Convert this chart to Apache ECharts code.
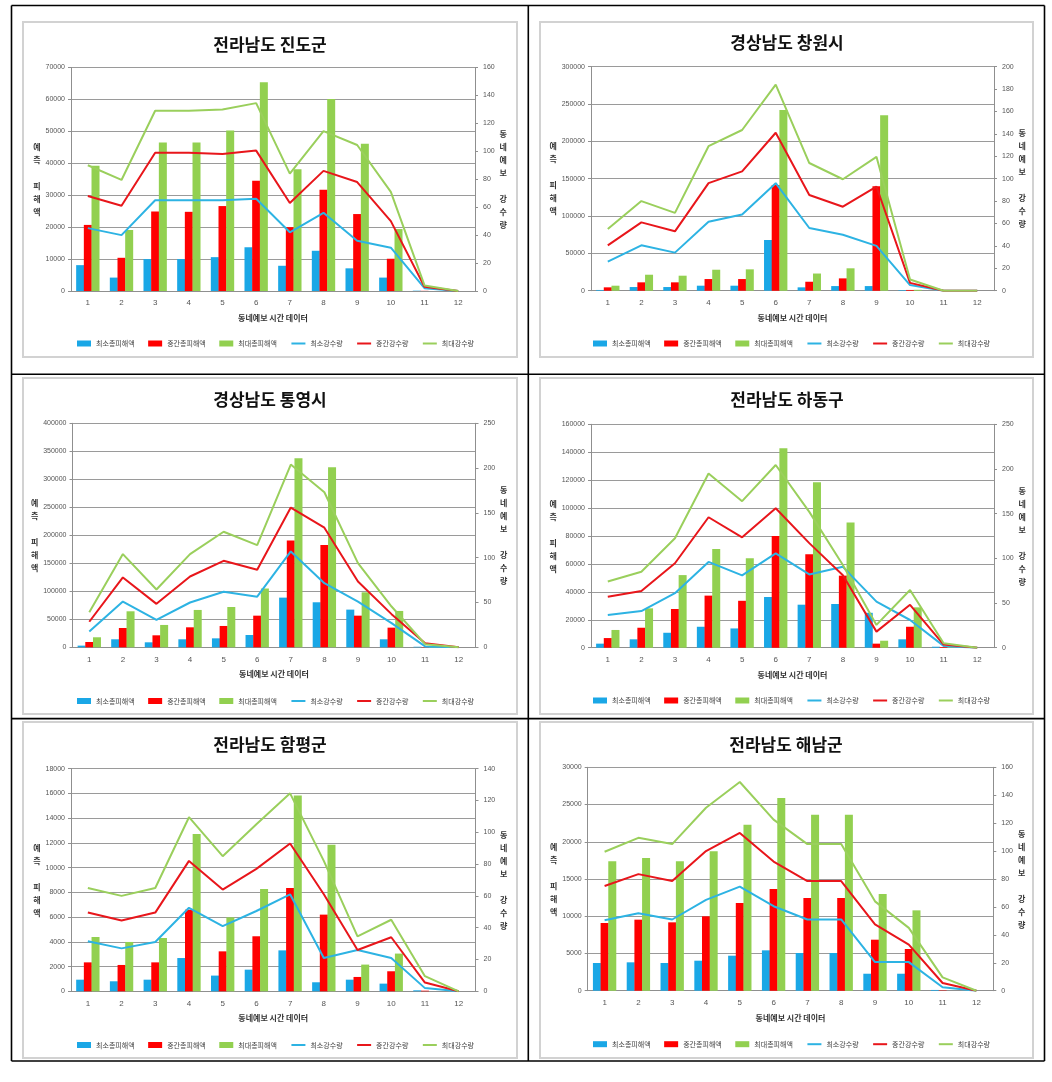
<!DOCTYPE html>
<html><head><meta charset="utf-8">
<script src="https://cdn.jsdelivr.net/npm/echarts/dist/echarts.min.js"></script>
<style>html,body{margin:0;padding:0;background:#fff}#c{width:1052px;height:1082px}</style>
</head><body><div id="c"></div><script>
// ---------- data ----------
const categories = ['1','2','3','4','5','6','7','8','9','10','11','12'];
const seriesNames = ['최소총피해액','중간총피해액','최대총피해액','최소강수량','중간강수량','최대강수량'];
const panelTitles = ['전라남도 진도군','경상남도 창원시','경상남도 통영시','전라남도 하동구','전라남도 함평군','전라남도 해남군'];
const xAxisName = '동네예보 시간 데이터';
const leftAxisName = '예\n측\n\n피\n해\n액';
const rightAxisName = '동\n네\n예\n보\n\n강\n수\n량';

// 진도군
const jindoMinDamage = [8100, 4200, 10000, 10000, 10600, 13700, 7900, 12600, 7100, 4200, 100, 0];
const jindoMidDamage = [20700, 10400, 24900, 24800, 26600, 34500, 20000, 31700, 24100, 10100, 50, 0];
const jindoMaxDamage = [39200, 19100, 46500, 46500, 50300, 65400, 38100, 60100, 46100, 19400, 0, 0];
const jindoMinRain = [45, 40, 65, 65, 65, 66, 42, 56, 36, 31, 2, 0];
const jindoMidRain = [68, 61, 99, 99, 98, 100.5, 63, 86, 78, 50, 3, 0];
const jindoMaxRain = [90, 79.5, 129, 129, 130, 134.5, 84, 114.5, 104.5, 71, 4, 0];
// 창원시
const changwonMinDamage = [1000, 4900, 4900, 6700, 6700, 67900, 4500, 6200, 6200, 800, 0, 0];
const changwonMidDamage = [4500, 11200, 11200, 15600, 15600, 141500, 12000, 16500, 140000, 1000, 0, 0];
const changwonMaxDamage = [6700, 21400, 20100, 28100, 28600, 242000, 23000, 30000, 235000, 1200, 0, 0];
const changwonMinRain = [26, 40.5, 34, 61.5, 68, 96, 56, 50, 40, 5, 0, 0];
const changwonMidRain = [40.5, 61, 53, 96, 106.5, 141, 85.5, 75, 93, 7, 0, 0];
const changwonMaxRain = [55, 80, 69.5, 129, 143.5, 184, 114, 99.5, 119.5, 10, 0, 0];
// 통영시
const tongyeongMinDamage = [3000, 14300, 8900, 14300, 16000, 22000, 88700, 80400, 67300, 14300, 1000, 0];
const tongyeongMidDamage = [9500, 34500, 21400, 35700, 38100, 56500, 190500, 182700, 56500, 35100, 500, 0];
const tongyeongMaxDamage = [17900, 64300, 39900, 66700, 72000, 105000, 337500, 321400, 98200, 64900, 500, 0];
const tongyeongMinRain = [17.5, 51, 30.5, 50, 62, 56.5, 107, 71.5, 51, 27, 1, 0];
const tongyeongMidRain = [28.5, 78, 48.5, 79, 96.5, 86.5, 156, 133.5, 73.5, 37, 4.5, 0];
const tongyeongMaxRain = [39, 104, 64.5, 104, 129, 114, 204, 173, 94, 45.5, 3.5, 0];
// 하동구
const hadongMinDamage = [2900, 6000, 10700, 15000, 13800, 36300, 30800, 31300, 25000, 6000, 700, 0];
const hadongMidDamage = [6900, 14300, 27700, 37300, 33600, 80000, 66900, 51600, 2900, 15000, 500, 0];
const hadongMaxDamage = [12700, 28200, 52000, 70700, 64000, 142800, 118500, 89600, 5000, 28900, 300, 0];
const hadongMinRain = [36.5, 41, 61, 96, 81, 105.5, 82, 90.5, 51.5, 31, 2, 0];
const hadongMidRain = [57, 63.5, 94.5, 146, 123.5, 156, 117, 81, 18, 48, 3.5, 0];
const hadongMaxRain = [74, 85, 122.5, 195, 164, 204.5, 152, 92.5, 25.5, 64.5, 5, 0];
// 함평군
const hampyeongMinDamage = [940, 810, 940, 2690, 1270, 1750, 3310, 730, 940, 620, 80, 0];
const hampyeongMidDamage = [2340, 2130, 2340, 6600, 3230, 4450, 8350, 6200, 1160, 1620, 50, 0];
const hampyeongMaxDamage = [4390, 3990, 4310, 12720, 5980, 8270, 15840, 11860, 2160, 3050, 0, 0];
const hampyeongMinRain = [31.5, 27, 31, 52.5, 41, 50.5, 61, 21, 26, 21, 2, 0];
const hampyeongMidRain = [49.5, 44.5, 49.5, 82, 64, 77, 93, 61, 26, 34, 5.5, 0];
const hampyeongMaxRain = [65, 60, 65, 109.5, 85, 105, 124.5, 82, 34.5, 45, 9.5, 0];
// 해남군
const haenamMinDamage = [3720, 3810, 3720, 4030, 4700, 5420, 5060, 5060, 2280, 2280, 100, 0];
const haenamMidDamage = [9090, 9540, 9180, 9990, 11780, 13660, 12450, 12450, 6850, 5600, 50, 0];
const haenamMaxDamage = [17370, 17820, 17370, 18720, 22300, 25880, 23640, 23640, 12990, 10790, 0, 0];
const haenamMinRain = [50.5, 55.5, 51, 65, 74.5, 60.5, 51, 51, 20.5, 20.5, 2.5, 0];
const haenamMidRain = [75, 83.5, 78.5, 100, 113, 92.5, 78.5, 78.5, 47.5, 33, 5.5, 0];
const haenamMaxRain = [99.5, 109.5, 105, 131, 149.5, 122.5, 105, 105, 64, 45, 9.5, 0];

// axis scales per panel
const leftAxisMax = [70000, 300000, 400000, 160000, 18000, 30000];
const leftAxisStep = [10000, 50000, 50000, 20000, 2000, 5000];
const rightAxisMax = [160, 200, 250, 250, 140, 160];
const rightAxisStep = [20, 20, 50, 50, 20, 20];

const panelData = [
  [jindoMinDamage, jindoMidDamage, jindoMaxDamage, jindoMinRain, jindoMidRain, jindoMaxRain],
  [changwonMinDamage, changwonMidDamage, changwonMaxDamage, changwonMinRain, changwonMidRain, changwonMaxRain],
  [tongyeongMinDamage, tongyeongMidDamage, tongyeongMaxDamage, tongyeongMinRain, tongyeongMidRain, tongyeongMaxRain],
  [hadongMinDamage, hadongMidDamage, hadongMaxDamage, hadongMinRain, hadongMidRain, hadongMaxRain],
  [hampyeongMinDamage, hampyeongMidDamage, hampyeongMaxDamage, hampyeongMinRain, hampyeongMidRain, hampyeongMaxRain],
  [haenamMinDamage, haenamMidDamage, haenamMaxDamage, haenamMinRain, haenamMidRain, haenamMaxRain]
];

// ---------- layout / style ----------
const layout = [
  {gl:71,    gt:67.5,  gw:404,   gh:223.5, tx:270, ty:46,    lx:77,  ly:344,    lg:29,   rg:23, frame:[23,22,494,335]},
  {gl:591,   gt:66.7,  gw:403,   gh:224,   tx:787, ty:44.5,  lx:593, ly:344,    lg:32,   rg:21, frame:[540,22,493,335]},
  {gl:72.5,  gt:423.3, gw:403,   gh:224,   tx:270, ty:401,   lx:77,  ly:701.5,  lg:29.5, rg:23, frame:[23,378,494,336]},
  {gl:591,   gt:424.3, gw:403,   gh:223.4, tx:787, ty:401,   lx:593, ly:701,    lg:32,   rg:20, frame:[540,378,493,336]},
  {gl:71,    gt:768.7, gw:404.5, gh:222.6, tx:270, ty:746.5, lx:77,  ly:1045.5, lg:28,   rg:23, frame:[23,722,494,336]},
  {gl:587.7, gt:767.3, gw:405.6, gh:223.4, tx:786, ty:745.7, lx:593, ly:1044.7, lg:28,   rg:20, frame:[540,722,493,336]}
];
const barColors = ['#1AA7E6', '#FF0000', '#92D050'];
const lineColors = ['#2DB3E3', '#E8161B', '#9ACF5C'];
const KR = '"Noto Sans CJK KR", "Noto Sans", sans-serif';
const NUM = '"Liberation Sans", Arial, sans-serif';
const axisGray = '#8f8f8f';
const plain = v => String(v);

const option = {
  animation: false,
  backgroundColor: '#fff',
  title: [], legend: [], grid: [], xAxis: [], yAxis: [], series: [], graphic: []
};

// table lines & frames
const g = option.graphic;
layout.forEach(L => {
  const [fx, fy, fw, fh] = L.frame;
  g.push({type:'rect', z:-10, shape:{x:fx, y:fy, width:fw, height:fh}, style:{fill:'#fff', stroke:'#d2d2d2', lineWidth:2}});
});
const tableStroke = {stroke:'#000', lineWidth:1.6};
[[11.5,5.5,1044.5,5.5],[11.5,374.2,1044.5,374.2],[11.5,718.6,1044.5,718.6],[11.5,1061,1044.5,1061],
 [11.5,5.5,11.5,1061],[528.3,5.5,528.3,1061],[1044.5,5.5,1044.5,1061]].forEach(s => {
  g.push({type:'line', z:10, shape:{x1:s[0], y1:s[1], x2:s[2], y2:s[3]}, style:tableStroke});
});

layout.forEach((L, p) => {
  option.title.push({text: panelTitles[p], left: L.tx, top: L.ty - 10, textAlign: 'center', padding: 0,
    textStyle: {fontFamily: KR, fontSize: 17, fontWeight: 'bold', color: '#111'}});
  option.grid.push({left: L.gl, top: L.gt, width: L.gw, height: L.gh, containLabel: false, outerBoundsMode: 'none'});
  option.xAxis.push({type:'category', gridIndex:p, data: categories,
    axisLine:{lineStyle:{color:axisGray}}, axisTick:{length:4, lineStyle:{color:axisGray}},
    axisLabel:{fontSize:8, color:'#555', margin:8, fontFamily: NUM},
    name: xAxisName, nameLocation:'middle', nameGap:23,
    nameTextStyle:{fontSize:8, color:'#333', fontFamily: KR, fontWeight:'bold'}});
  option.yAxis.push({type:'value', gridIndex:p, position:'left', min:0, max:leftAxisMax[p], interval:leftAxisStep[p],
    axisLine:{show:true, lineStyle:{color:axisGray}}, axisTick:{show:true, length:3, lineStyle:{color:axisGray}},
    splitLine:{show:true, lineStyle:{color:'#9a9a9a', width:1.2}},
    axisLabel:{fontSize:7, color:'#555', margin:6, fontFamily: NUM, formatter: plain},
    name: leftAxisName, nameLocation:'middle', nameRotate:0, nameGap:L.lg,
    nameTextStyle:{fontSize:8, lineHeight:13, color:'#333', fontFamily: KR, fontWeight:'bold'}});
  option.yAxis.push({type:'value', gridIndex:p, position:'right', min:0, max:rightAxisMax[p], interval:rightAxisStep[p],
    axisLine:{show:true, lineStyle:{color:axisGray}}, axisTick:{show:true, length:3, lineStyle:{color:axisGray}},
    splitLine:{show:false},
    axisLabel:{fontSize:7, color:'#555', margin:8, fontFamily: NUM, formatter: plain},
    name: rightAxisName, nameLocation:'middle', nameRotate:0, nameGap:L.rg,
    nameTextStyle:{fontSize:8, lineHeight:13, color:'#333', fontFamily: KR, fontWeight:'bold'}});
  option.legend.push({left: L.lx, top: L.ly - 4, padding: 0, itemWidth: 14, itemHeight: 6, itemGap: 13.5, itemTextGap: 2,
    textStyle:{fontSize:7, color:'#444', fontFamily: KR},
    data: seriesNames.map((n, i) => i < 3 ? {name:n, icon:'rect'} : {name:n, itemStyle:{opacity:0}})});
  const d = panelData[p];
  for (let i = 0; i < 3; i++) {
    option.series.push({type:'bar', name: seriesNames[i], xAxisIndex:p, yAxisIndex:2*p, data: d[i],
      barWidth: 8, barGap: '-4%', itemStyle:{color: barColors[i]}, z: 2});
  }
  for (let i = 0; i < 3; i++) {
    option.series.push({type:'line', name: seriesNames[3+i], xAxisIndex:p, yAxisIndex:2*p+1, data: d[3+i],
      symbol:'none', lineStyle:{color: lineColors[i], width: 2}, itemStyle:{color: lineColors[i]}, z: 3});
  }
});

const chart = echarts.init(document.getElementById('c'), null, {renderer:'canvas'});
chart.setOption(option);
</script></body></html>
